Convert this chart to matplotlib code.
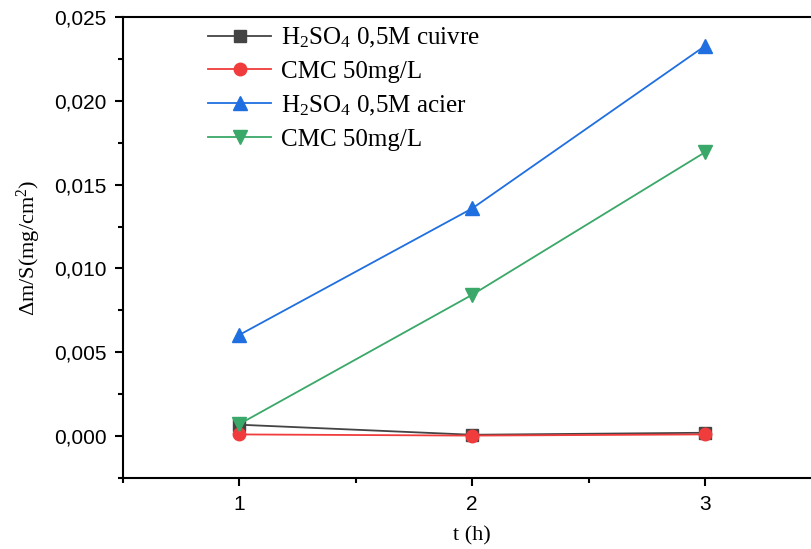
import matplotlib
matplotlib.use('Agg')
import matplotlib.pyplot as plt
from matplotlib.ticker import FuncFormatter, MultipleLocator

plt.rcParams['font.family'] = ['Liberation Sans', 'DejaVu Sans']
plt.rcParams['mathtext.fontset'] = 'custom'
plt.rcParams['mathtext.rm'] = 'Liberation Serif'
plt.rcParams['mathtext.it'] = 'Liberation Serif:italic'

t = [1, 2, 3]
cuivre_h2so4 = [0.00068, 0.00008, 0.00020]
cuivre_cmc = [0.00010, 0.00003, 0.00010]
acier_h2so4 = [0.00604, 0.01358, 0.02327]
acier_cmc = [0.00072, 0.00843, 0.01693]

labels = ['H$\\mathrm{_2}$SO$\\mathrm{_4}$ 0,5M cuivre', 'CMC 50mg/L',
          'H$\\mathrm{_2}$SO$\\mathrm{_4}$ 0,5M acier', 'CMC 50mg/L']

fig = plt.figure(figsize=(8.11, 5.49), dpi=100)
# axes runs past the right border like in the original crop
ax = fig.add_axes([0.1517, 0.1293, 0.861, 0.8397])

ax.plot(t, cuivre_h2so4, '-s', color='#444444', lw=1.3, ms=8, label=labels[0])
ax.plot(t, cuivre_cmc, '-o', color='#f03c3c', lw=1.3, ms=9, label=labels[1])
ax.plot(t, acier_h2so4, '-^', color='#1f6fe0', lw=1.3, ms=10, label=labels[2])
ax.plot(t, acier_cmc, '-v', color='#3aa868', lw=1.3, ms=10, label=labels[3])

ax.set_xlim(0.5, 3.5)
ax.set_ylim(-0.0025, 0.025)
ax.xaxis.set_major_locator(MultipleLocator(1))
ax.xaxis.set_minor_locator(MultipleLocator(0.5))
ax.yaxis.set_major_locator(MultipleLocator(0.005))
ax.yaxis.set_minor_locator(MultipleLocator(0.0025))
ax.yaxis.set_major_formatter(FuncFormatter(lambda v, p: ('%.3f' % v).replace('.', ',')))

for s in ax.spines.values():
    s.set_linewidth(1.5)
ax.tick_params(which='major', direction='out', length=6, width=1.5, labelsize=15, pad=6)
ax.tick_params(which='minor', direction='out', length=3.5, width=1.5)

ax.set_xlabel('t (h)', fontsize=16, family='Liberation Serif', labelpad=9)
ax.set_ylabel('$\\Delta$m/S(mg/cm$^2$)', fontsize=16, family='Liberation Serif', labelpad=8)

ax.legend(loc='upper left', bbox_to_anchor=(0.09, 1.03), frameon=False,
          prop={'family': 'Liberation Serif', 'size': 18},
          handlelength=2.5, labelspacing=0.42, handletextpad=0.4)

fig.savefig('out.png', dpi=100)
